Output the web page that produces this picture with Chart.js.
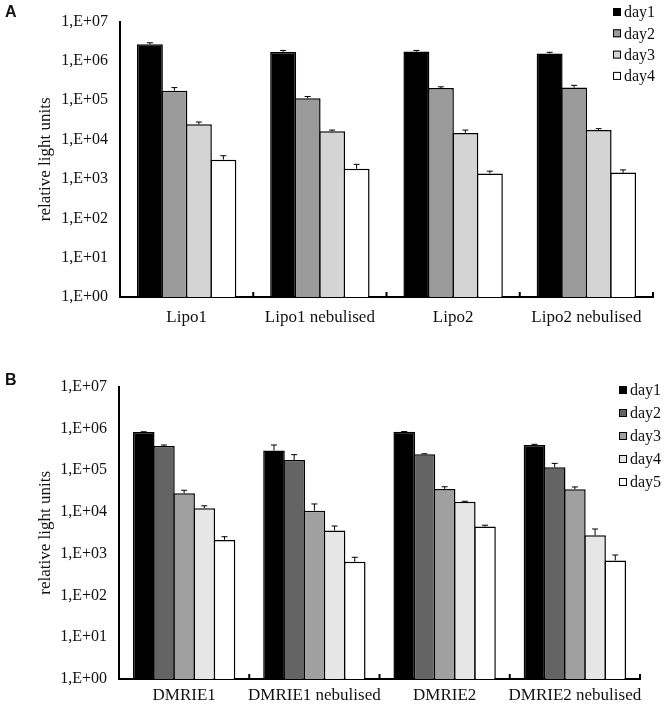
<!DOCTYPE html>
<html>
<head>
<meta charset="utf-8">
<script src="https://cdn.jsdelivr.net/npm/chart.js@4.4.0/dist/chart.umd.min.js"></script>
<style>
  body { margin: 0; background: #fff; }
  #page { position: relative; width: 666px; height: 710px; }
  .panel { position: absolute; left: 0; width: 666px; height: 345px; }
  .tag { position: absolute; left: 5px; font: bold 16px 'Liberation Sans', Arial, sans-serif; color: #111; }
</style>
</head>
<body>
<div id="page">
  <div class="panel" style="top:0"><canvas id="chartA"></canvas></div>
  <div class="panel" style="top:365px"><canvas id="chartB"></canvas></div>
  <div class="tag" style="top:3px">A</div>
  <div class="tag" style="top:371px">B</div>
</div>
<script>
// panel A - Lipo formulations, 4 days
const categoriesA = ['Lipo1', 'Lipo1 nebulised', 'Lipo2', 'Lipo2 nebulised'];
const namesA = ['day1', 'day2', 'day3', 'day4'];
const day1A = [2650000, 1700000, 1730000, 1550000];
const day2A = [175000, 112000, 204000, 210000];
const day3A = [24500, 16300, 14800, 17500];
const day4A = [3100, 1820, 1380, 1450];
// error bar sizes (only the upper half is drawn)
const err1A = [250000, 150000, 120000, 110000];
const err2A = [35000, 13000, 16000, 30000];
const err3A = [3500, 1200, 2700, 1500];
const err4A = [800, 530, 200, 250];

// panel B - DMRIE formulations, 5 days
const categoriesB = ['DMRIE1', 'DMRIE1 nebulised', 'DMRIE2', 'DMRIE2 nebulised'];
const namesB = ['day1', 'day2', 'day3', 'day4', 'day5'];
const day1B = [820000, 296000, 830000, 400000];
const day2B = [380000, 174000, 240000, 117000];
const day3B = [28000, 10700, 35600, 35000];
const day4B = [12300, 3600, 17400, 2750];
const day5B = [2140, 640, 4450, 690];
const err1B = [10000, 104000, 10000, 15000];
const err2B = [20000, 61000, 7000, 28000];
const err3B = [5000, 4800, 4400, 4600];
const err4B = [1700, 1000, 600, 1150];
const err5B = [410, 180, 350, 240];

// y axis ticks, powers of ten only
const yTicks = [1, 10, 100, 1000, 10000, 100000, 1000000, 10000000];

const serif = "'Times New Roman', 'Liberation Serif', serif";
Chart.defaults.font.family = serif;
Chart.defaults.color = '#111';

const tickLabel = v => '1,E+' + String(Math.round(Math.log10(v))).padStart(2, '0');

// draws the upper error bar with a small cap on every bar
const errorBars = {
    id: 'errorBars',
    afterDatasetsDraw(chart) {
        const ctx = chart.ctx;
        const y = chart.scales.y;
        chart.data.datasets.forEach((ds, i) => {
            chart.getDatasetMeta(i).data.forEach((bar, j) => {
                const top = y.getPixelForValue(ds.data[j] + ds.errors[j]);
                ctx.save();
                ctx.strokeStyle = '#000';
                ctx.lineWidth = 1;
                ctx.beginPath();
                ctx.moveTo(bar.x, bar.y);
                ctx.lineTo(bar.x, top);
                ctx.moveTo(bar.x - 3, top);
                ctx.lineTo(bar.x + 3, top);
                ctx.stroke();
                ctx.restore();
            });
        });
    }
};

// short upward ticks between the groups on the x axis
const groupTicks = {
    id: 'groupTicks',
    afterDraw(chart) {
        const x = chart.scales.x;
        const ctx = chart.ctx;
        const bottom = chart.chartArea.bottom;
        const step = x.getPixelForValue(1) - x.getPixelForValue(0);
        ctx.save();
        ctx.strokeStyle = '#000';
        ctx.lineWidth = 2;
        ctx.beginPath();
        for (let i = 0; i < chart.data.labels.length; i++) {
            const px = x.getPixelForValue(i) + step / 2;
            ctx.moveTo(px, bottom);
            ctx.lineTo(px, bottom - 5);
        }
        ctx.stroke();
        ctx.restore();
    }
};

// legend with small boxes in the top right corner
const boxLegend = {
    id: 'boxLegend',
    afterDraw(chart, args, opts) {
        const ctx = chart.ctx;
        chart.data.datasets.forEach((ds, i) => {
            const cy = opts.y + i * opts.gap;
            ctx.save();
            ctx.fillStyle = ds.backgroundColor;
            ctx.fillRect(opts.x, cy - opts.size / 2, opts.size, opts.size);
            ctx.strokeStyle = '#000';
            ctx.lineWidth = 1;
            ctx.strokeRect(opts.x + 0.5, cy - opts.size / 2 + 0.5, opts.size - 1, opts.size - 1);
            ctx.fillStyle = '#111';
            ctx.font = '16px ' + serif;
            ctx.textBaseline = 'middle';
            ctx.fillText(ds.label, opts.x + opts.size + 3, cy + 1);
            ctx.restore();
        });
    }
};

const makeDatasets = (names, values, errors, colours, catPct, barPct) =>
    names.map((name, i) => ({
        label: name,
        data: values[i],
        errors: errors[i],
        backgroundColor: colours[i],
        borderColor: '#000',
        borderWidth: 1.5,
        categoryPercentage: catPct,
        barPercentage: barPct // a bit over 1 so neighbour borders overlap
    }));

const buildChart = (id, categories, datasets, o) => new Chart(document.getElementById(id), {
    type: 'bar',
    data: { labels: categories, datasets: datasets },
    plugins: [errorBars, groupTicks, boxLegend],
    options: {
        responsive: true,
        maintainAspectRatio: false,
        animation: false,
        layout: { padding: o.padding },
        plugins: {
            legend: { display: false },
            tooltip: { enabled: false },
            boxLegend: o.legend
        },
        scales: {
            x: {
                grid: { display: false, drawTicks: false },
                border: { color: '#000', width: 2 },
                ticks: { font: { size: 17 }, padding: o.labelPad, maxRotation: 0, autoSkip: false, color: '#111' },
                afterFit: axis => { axis.height = o.xHeight; }
            },
            y: {
                type: 'logarithmic',
                min: 1,
                max: 10000000,
                afterBuildTicks: axis => { axis.ticks = yTicks.map(v => ({ value: v })); },
                afterFit: axis => { axis.width = o.yWidth; },
                grid: { display: false, drawTicks: false },
                border: { color: '#000', width: 2 },
                ticks: { callback: tickLabel, font: { size: 16 }, padding: 12, color: '#111' },
                title: { display: true, text: 'relative light units', font: { size: 17 }, padding: { top: 35, bottom: 0 }, color: '#111' }
            }
        }
    }
});

buildChart('chartA', categoriesA,
    makeDatasets(namesA, [day1A, day2A, day3A, day4A], [err1A, err2A, err3A, err4A],
        ['#000000', '#9b9b9b', '#d4d4d4', '#ffffff'], 0.735, 1.06),
    { padding: { left: 0, top: 12, right: 13, bottom: 8 }, yWidth: 120, xHeight: 40, labelPad: 10,
      legend: { x: 613, y: 12, gap: 21.3, size: 8 } });

buildChart('chartB', categoriesB,
    makeDatasets(namesB, [day1B, day2B, day3B, day4B, day5B], [err1B, err2B, err3B, err4B, err5B],
        ['#000000', '#646464', '#a0a0a0', '#e6e6e6', '#ffffff'], 0.775, 1.07),
    { padding: { left: 0, top: 13, right: 26, bottom: 0 }, yWidth: 119, xHeight: 31, labelPad: 6,
      legend: { x: 619, y: 25, gap: 23, size: 8 } });
</script>
</body>
</html>
